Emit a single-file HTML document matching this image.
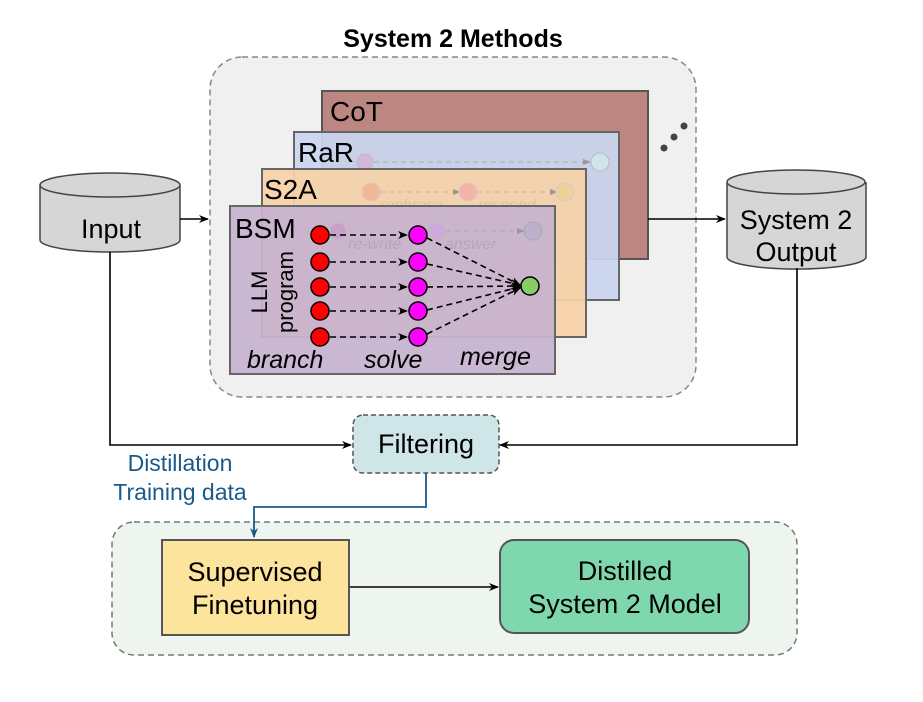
<!DOCTYPE html>
<html><head><style>
body{margin:0;background:#fff;}
svg text{font-family:"Liberation Sans",Arial,sans-serif;}
</style></head><body>
<svg width="923" height="697" viewBox="0 0 923 697" xmlns="http://www.w3.org/2000/svg">
<defs>
<marker id="ah" markerWidth="10" markerHeight="8" refX="9" refY="4" orient="auto" markerUnits="userSpaceOnUse"><path d="M0,0 L10,4 L0,8 L3,4 Z" fill="#000"/></marker>
<marker id="ab" markerWidth="10" markerHeight="8" refX="9" refY="4" orient="auto" markerUnits="userSpaceOnUse"><path d="M0,0 L10,4 L0,8 L3,4 Z" fill="#1a5a8a"/></marker>
<marker id="af" markerWidth="8" markerHeight="6" refX="7" refY="3" orient="auto" markerUnits="userSpaceOnUse"><path d="M0,0 L8,3 L0,6 Z" fill="#999"/></marker>
</defs>
<rect width="923" height="697" fill="#fff"/>
<text x="453" y="47" font-size="25" font-weight="bold" text-anchor="middle">System 2 Methods</text>
<rect x="210" y="57" width="486" height="340" rx="32" fill="#f0f0f0" stroke="#888" stroke-width="1.5" stroke-dasharray="6,4"/>
<circle cx="664" cy="148" r="3.5" fill="#444"/><circle cx="674" cy="137" r="3.5" fill="#444"/><circle cx="684" cy="126" r="3.5" fill="#444"/>
<rect x="322" y="91" width="326" height="168" fill="#bb8780" stroke="#555" stroke-width="2"/>
<text x="330" y="121" font-size="28">CoT</text>
<rect x="294" y="132" width="325" height="168" fill="#cad6f0" fill-opacity="0.93" stroke="#666" stroke-width="2"/>
<text x="298" y="162" font-size="28">RaR</text>
<circle cx="365" cy="162" r="8" fill="#d4b8dc" stroke="#bbb"/>
<line x1="374" y1="162" x2="590" y2="162" stroke="#aaa" stroke-dasharray="5,4" marker-end="url(#af)"/>
<circle cx="600" cy="162" r="9" fill="#d0e4ec" stroke="#bbb"/>
<rect x="262" y="169" width="324" height="168" fill="#f8d2a8" fill-opacity="0.93" stroke="#666" stroke-width="2"/>
<text x="264" y="199" font-size="28">S2A</text>
<circle cx="371" cy="192" r="9" fill="#f5b895" stroke="#ccc"/>
<line x1="380" y1="192" x2="460" y2="192" stroke="#bbb" stroke-dasharray="5,4" marker-end="url(#af)"/>
<circle cx="468" cy="192" r="9" fill="#f5b4a8" stroke="#ccc"/>
<line x1="477" y1="192" x2="557" y2="192" stroke="#bbb" stroke-dasharray="5,4" marker-end="url(#af)"/>
<circle cx="565" cy="192" r="9" fill="#f0d09a" stroke="#ccc"/>
<text x="380" y="210" font-size="16" font-style="italic" fill="#e8bfa5">rephrase</text>
<text x="478" y="210" font-size="16" font-style="italic" fill="#e8bfa5">respond</text>
<rect x="230" y="206" width="325" height="168" fill="#c7b3d0" fill-opacity="0.93" stroke="#666" stroke-width="2"/>
<text x="235" y="238" font-size="28">BSM</text>
<circle cx="338" cy="231" r="8" fill="#c8a0c8" stroke="#bbb"/>
<circle cx="437" cy="231" r="8" fill="#cfa8dc" stroke="#bbb"/>
<line x1="446" y1="231" x2="524" y2="231" stroke="#aaa" stroke-dasharray="5,4" marker-end="url(#af)"/>
<circle cx="533" cy="231" r="9" fill="#bcb0cc" stroke="#aaa"/>
<text x="348" y="249" font-size="16" font-style="italic" fill="#b4a4c0">re-write</text>
<text x="445" y="249" font-size="16" font-style="italic" fill="#b4a4c0">answer</text>
<text transform="translate(267,292) rotate(-90)" font-size="22" text-anchor="middle">LLM</text>
<text transform="translate(293,292) rotate(-90)" font-size="22" text-anchor="middle">program</text>
<g stroke="#000" stroke-width="1.6" stroke-dasharray="6,4" fill="none">
<line x1="330" y1="235" x2="407" y2="235" marker-end="url(#ah)"/>
<line x1="330" y1="262" x2="407" y2="262" marker-end="url(#ah)"/>
<line x1="330" y1="287" x2="407" y2="287" marker-end="url(#ah)"/>
<line x1="330" y1="311" x2="407" y2="311" marker-end="url(#ah)"/>
<line x1="330" y1="337" x2="407" y2="337" marker-end="url(#ah)"/>
<line x1="427" y1="238" x2="520" y2="285" marker-end="url(#ah)"/>
<line x1="427" y1="264" x2="520" y2="285" marker-end="url(#ah)"/>
<line x1="427" y1="287" x2="520" y2="286" marker-end="url(#ah)"/>
<line x1="427" y1="310" x2="520" y2="287" marker-end="url(#ah)"/>
<line x1="427" y1="334" x2="520" y2="288" marker-end="url(#ah)"/>
</g>
<g stroke="#000" stroke-width="1.5">
<circle cx="320" cy="235" r="9" fill="#f00"/><circle cx="320" cy="262" r="9" fill="#f00"/><circle cx="320" cy="287" r="9" fill="#f00"/><circle cx="320" cy="311" r="9" fill="#f00"/><circle cx="320" cy="337" r="9" fill="#f00"/>
<circle cx="418" cy="235" r="9" fill="#f0f"/><circle cx="418" cy="262" r="9" fill="#f0f"/><circle cx="418" cy="287" r="9" fill="#f0f"/><circle cx="418" cy="311" r="9" fill="#f0f"/><circle cx="418" cy="337" r="9" fill="#f0f"/>
<circle cx="530" cy="286" r="9" fill="#8c6"/>
</g>
<text x="247" y="368" font-size="25" font-style="italic">branch</text>
<text x="364" y="368" font-size="25" font-style="italic">solve</text>
<text x="460" y="365" font-size="25" font-style="italic">merge</text>
<path d="M40,185 L40,240 A70,12 0 0 0 180,240 L180,185" fill="#d6d6d6" stroke="#444" stroke-width="1.5"/>
<ellipse cx="110" cy="185" rx="70" ry="12" fill="#d6d6d6" stroke="#444" stroke-width="1.5"/>
<text x="111" y="238" font-size="27" text-anchor="middle">Input</text>
<path d="M727,182 L727,257 A69,12 0 0 0 866,257 L866,182" fill="#d6d6d6" stroke="#444" stroke-width="1.5"/>
<ellipse cx="796" cy="182" rx="69" ry="12" fill="#d6d6d6" stroke="#444" stroke-width="1.5"/>
<text x="796" y="229" font-size="27" text-anchor="middle">System 2</text>
<text x="796" y="261" font-size="27" text-anchor="middle">Output</text>
<g stroke="#000" stroke-width="1.6" fill="none">
<line x1="180" y1="219" x2="208" y2="219" marker-end="url(#ah)"/>
<line x1="648" y1="219" x2="725" y2="219" marker-end="url(#ah)"/>
<polyline points="110,252 110,445 351,445" marker-end="url(#ah)"/>
<polyline points="797,268 797,445 500,445" marker-end="url(#ah)"/>
</g>
<rect x="353" y="415" width="146" height="58" rx="10" fill="#cfe6e8" stroke="#555" stroke-width="1.5" stroke-dasharray="5,3"/>
<text x="426" y="453" font-size="27" text-anchor="middle">Filtering</text>
<text x="180" y="471" font-size="23" fill="#1a5a8a" text-anchor="middle">Distillation</text>
<text x="180" y="500" font-size="23" fill="#1a5a8a" text-anchor="middle">Training data</text>
<rect x="112" y="522" width="685" height="133" rx="22" fill="#eef5ee" stroke="#777" stroke-width="1.5" stroke-dasharray="6,4"/>
<polyline points="426,473 426,507 254,507 254,537" stroke="#1a5a8a" stroke-width="1.8" fill="none" marker-end="url(#ab)"/>
<line x1="349" y1="587" x2="498" y2="587" stroke="#000" stroke-width="1.6" marker-end="url(#ah)"/>
<rect x="162" y="540" width="187" height="95" fill="#fde49c" stroke="#555" stroke-width="2"/>
<text x="255" y="581" font-size="27" text-anchor="middle">Supervised</text>
<text x="255" y="614" font-size="27" text-anchor="middle">Finetuning</text>
<rect x="500" y="540" width="249" height="93" rx="14" fill="#7fd8ad" stroke="#555" stroke-width="2"/>
<text x="625" y="580" font-size="27" text-anchor="middle">Distilled</text>
<text x="625" y="613" font-size="27" text-anchor="middle">System 2 Model</text>
</svg>
</body></html>
